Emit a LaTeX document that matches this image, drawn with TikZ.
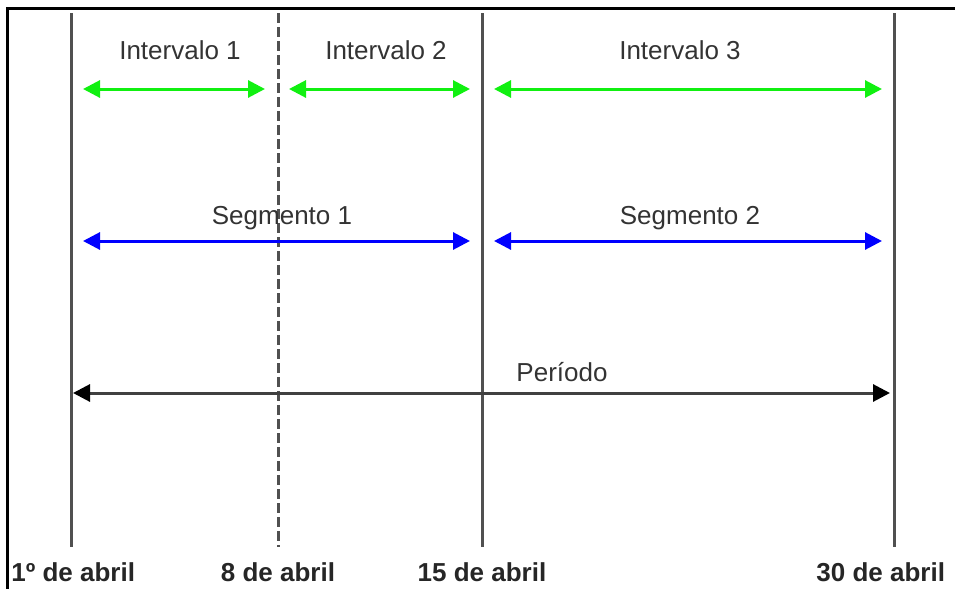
\documentclass[tikz,border=0pt]{standalone}
\usepackage{fontspec}
\setmainfont{Liberation Sans}
\usetikzlibrary{arrows.meta}
\definecolor{daygray}{HTML}{505050}
\definecolor{textgray}{HTML}{333333}
\definecolor{intgreen}{HTML}{11F011}
\definecolor{segblue}{HTML}{0000FF}

\begin{document}
\begin{tikzpicture}[
    x=0.5pt, y=-0.5pt,
    every node/.style={inner sep=0pt, anchor=base, text=textgray, font=\fontsize{13}{15}\selectfont},
    dayline/.style={line width=1.5pt, draw=daygray},
    span/.style={{Triangle[length=8.5pt,width=8.5pt]}-{Triangle[length=8.5pt,width=8.5pt]}, line width=1.5pt},
    periodspan/.style={{Triangle[length=8.5pt,width=8.5pt,color=black]}-{Triangle[length=8.5pt,width=8.5pt,color=black]}, line width=1.5pt, draw=daygray!80!black},
    datelabel/.style={text=black!85, font=\fontsize{13}{15}\selectfont\bfseries}
]
\useasboundingbox (0,0) rectangle (955,589);
% frame
\draw[line width=1.5pt] (7,589) -- (7,8) -- (956,8);

% day lines
\coordinate (d1top) at (71,13);   \coordinate (d1bot) at (71,547);
\coordinate (d8top) at (278,13);  \coordinate (d8bot) at (278,547);
\coordinate (d15top) at (482,13); \coordinate (d15bot) at (482,547);
\coordinate (d30top) at (894,13); \coordinate (d30bot) at (894,547);
\draw[dayline] (d1top) -- (d1bot);
\draw[dayline, dash pattern=on 5pt off 2pt] (d8top) -- (d8bot);
\draw[dayline] (d15top) -- (d15bot);
\draw[dayline] (d30top) -- (d30bot);

% intervals
\node (int1) at (180,60) {Intervalo 1};
\node (int2) at (386,60) {Intervalo 2};
\node (int3) at (680,60) {Intervalo 3};
\coordinate (i1a) at (83,89);  \coordinate (i1b) at (265,89);
\coordinate (i2a) at (289,89); \coordinate (i2b) at (470,89);
\coordinate (i3a) at (494,89); \coordinate (i3b) at (882,89);
\draw[span, intgreen] (i1a) -- (i1b);
\draw[span, intgreen] (i2a) -- (i2b);
\draw[span, intgreen] (i3a) -- (i3b);

% segments
\node (seg1) at (282,224) {Segmento 1};
\node (seg2) at (690,224) {Segmento 2};
\coordinate (s1a) at (83,241);  \coordinate (s1b) at (470,241);
\coordinate (s2a) at (494,241); \coordinate (s2b) at (882,241);
\draw[span, segblue] (s1a) -- (s1b);
\draw[span, segblue] (s2a) -- (s2b);

% period
\node (period) at (562,381) {Período};
\coordinate (pa) at (73,393); \coordinate (pb) at (890,393);
\draw[periodspan] (pa) -- (pb);

% dates
\node[datelabel, anchor=base west] (apr1) at (11,581) {1º de abril};
\node[datelabel] (apr8) at (278,581) {8 de abril};
\node[datelabel] (apr15) at (482,581) {15 de abril};
\node[datelabel, anchor=base west] (apr30) at (816,581) {30 de abril};
\end{tikzpicture}
\end{document}
